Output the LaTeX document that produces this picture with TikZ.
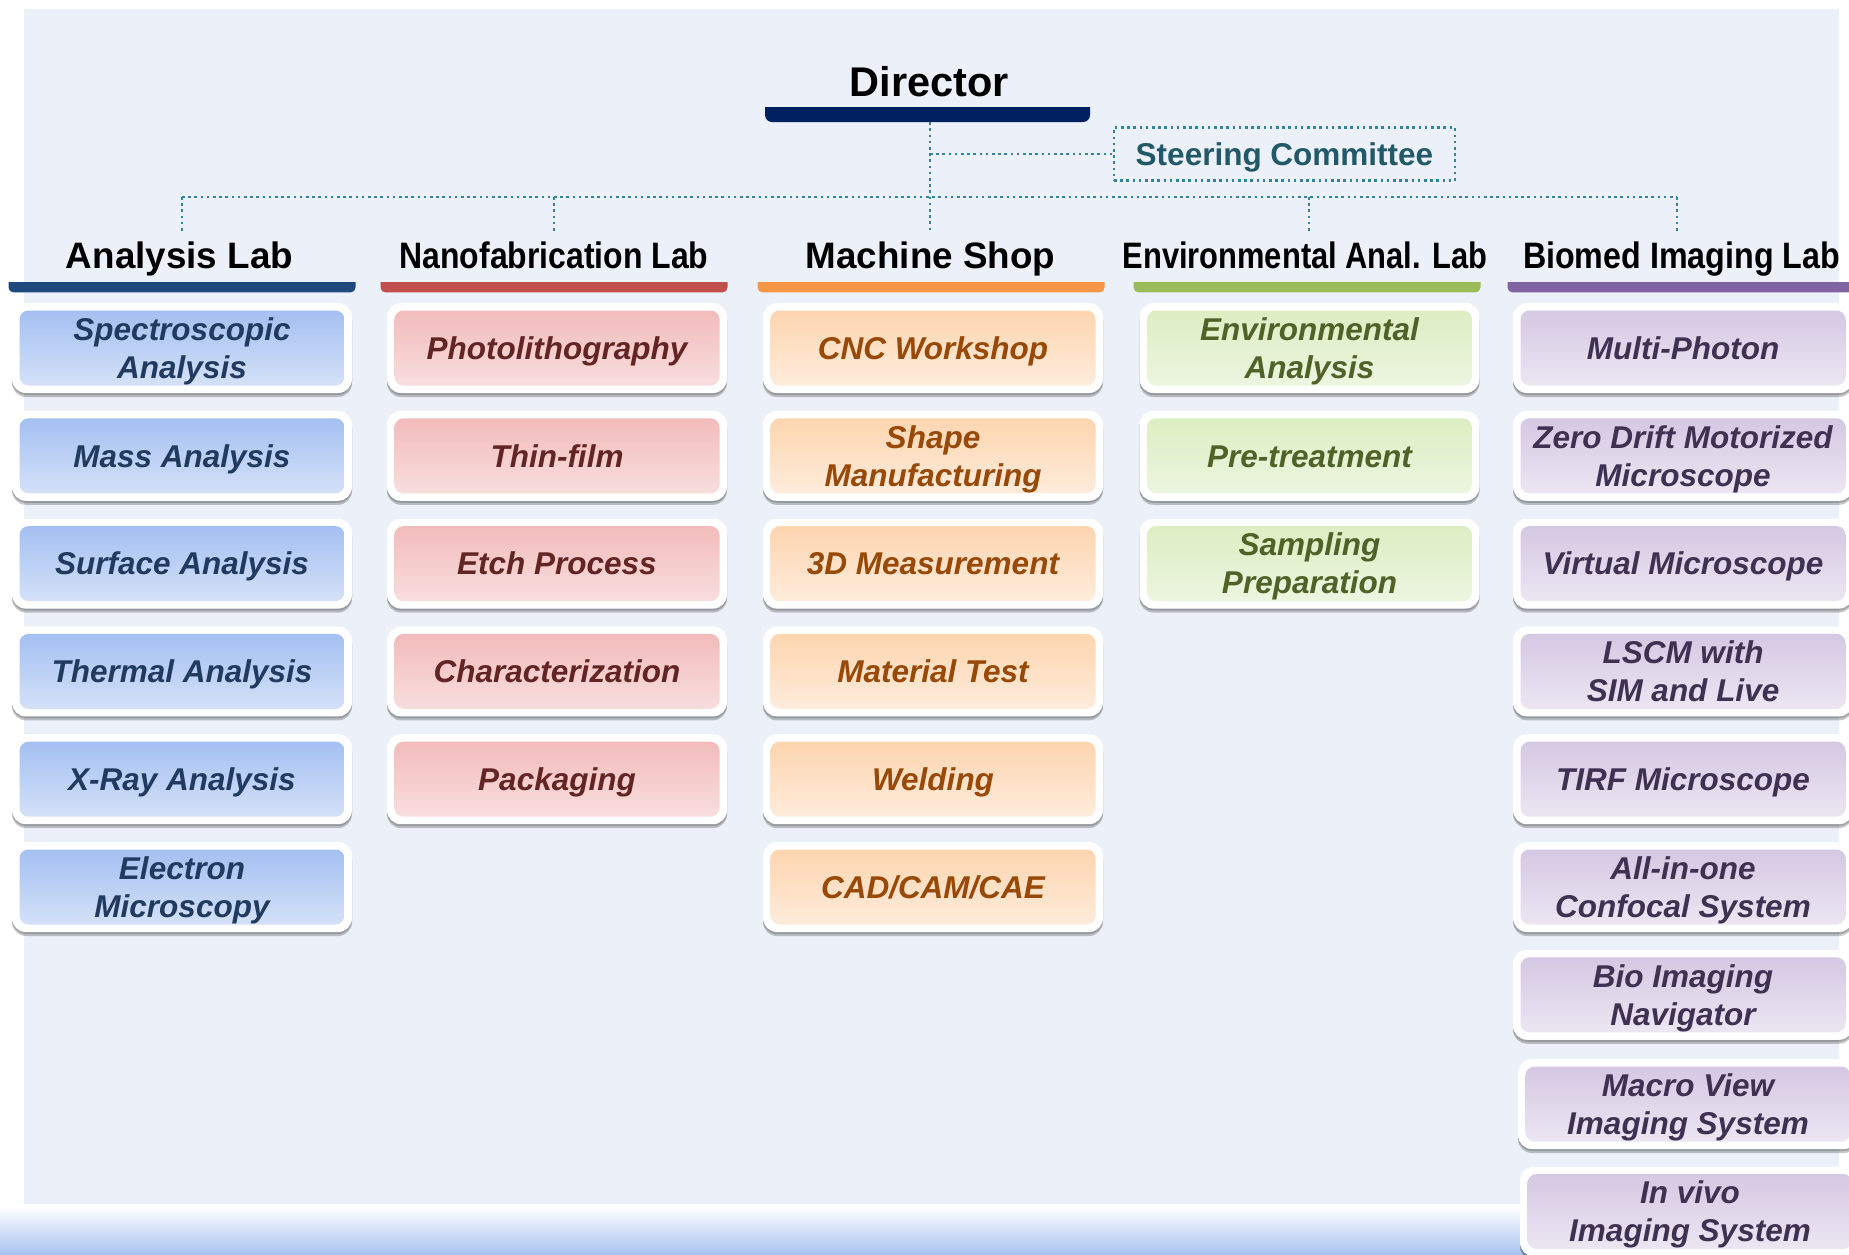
\documentclass[tikz,border=0pt]{standalone}
\usepackage{fontspec}
\usepackage{graphicx}
\setmainfont{Liberation Sans}
\usetikzlibrary{shadows,calc}
\definecolor{cPanel}{HTML}{ECF0F8}
\definecolor{cBot}{HTML}{A6C4EE}
\definecolor{cNavy}{HTML}{002060}
\definecolor{cTeal}{HTML}{31859C}
\definecolor{cSteer}{HTML}{215968}
\definecolor{cA}{HTML}{1F497D}
\definecolor{cN}{HTML}{C0504D}
\definecolor{cM}{HTML}{F79646}
\definecolor{cE}{HTML}{9BBB59}
\definecolor{cB}{HTML}{8064A2}
\definecolor{cAt}{HTML}{9FBDF1}\definecolor{cAb}{HTML}{D9E4F8}\definecolor{cAx}{HTML}{213A5F}
\definecolor{cNt}{HTML}{F2B8B8}\definecolor{cNb}{HTML}{F9E1E1}\definecolor{cNx}{HTML}{632523}
\definecolor{cMt}{HTML}{FDD3AB}\definecolor{cMb}{HTML}{FEEEE0}\definecolor{cMx}{HTML}{984807}
\definecolor{cEt}{HTML}{DCEDC0}\definecolor{cEb}{HTML}{EEF6E2}\definecolor{cEx}{HTML}{4F6228}
\definecolor{cBt}{HTML}{D3C5E1}\definecolor{cBb}{HTML}{EEE9F4}\definecolor{cBx}{HTML}{3F3151}
\newcommand\twol[2]{\vbox{\baselineskip=38pt\lineskiplimit=-100pt\halign{\hfil##\hfil\cr#1\cr#2\cr}}}
\newcommand\sqz[2]{\scalebox{#1}[1]{#2}}
\tikzset{
  labbox/.style n args={3}{rounded corners=14pt, fill=white, minimum width=340pt,
    minimum height=90pt, inner sep=0pt, text=#3,
    font=\bfseries\itshape\fontsize{31.5}{38}\selectfont,
    drop shadow={shadow xshift=0pt, shadow yshift=-4pt, opacity=.22, fill=black},
    drop shadow={shadow xshift=0pt, shadow yshift=-2pt, opacity=.18, fill=black},
    path picture={\shade[top color=#1, bottom color=#2, rounded corners=9pt]
      ([shift={(7.5pt,7.5pt)}]path picture bounding box.south west) rectangle
      ([shift={(-7.5pt,-7.5pt)}]path picture bounding box.north east);}},
  l1/.style={text height=22.6pt, text depth=0pt},
  l2/.style={text height=60.6pt, text depth=0pt},
  bA/.style={labbox={cAt}{cAb}{cAx}},
  bN/.style={labbox={cNt}{cNb}{cNx}},
  bM/.style={labbox={cMt}{cMb}{cMx}},
  bE/.style={labbox={cEt}{cEb}{cEx}},
  bB/.style={labbox={cBt}{cBb}{cBx}},
  hbar/.style 2 args={minimum width=347pt, minimum height=9.5pt, inner sep=0pt,
    path picture={\fill[#1, rounded corners=#2]
      ([yshift=10pt]path picture bounding box.north west) rectangle
      (path picture bounding box.south east);}},
  head/.style={font=\bfseries\fontsize{36.8}{44}\selectfont, inner sep=0pt, anchor=base},
  conn/.style={draw=cTeal, line width=2.6pt, dash pattern=on 2.6pt off 3.6pt},
}
\begin{document}
\begin{tikzpicture}[x=1pt,y=-1pt]
\useasboundingbox (0,0) rectangle (1849,1254);
% background
\fill[white] (0,0) rectangle (1849,1254);
\fill[cPanel] (24,9) rectangle (1839,1204);
\shade[top color=white, bottom color=cBot] (0,1207) rectangle (1849,1254);

% director
\node[font=\bfseries\fontsize{41.5}{50}\selectfont, inner sep=0pt, anchor=base] (dir) at (929.5,96) {Director};
\node[hbar={cNavy}{7pt}, minimum width=325pt, minimum height=15pt] (dirbar) at (927.5,114.5) {};
\node[conn, l1, minimum width=341pt, minimum height=53pt, inner sep=0pt, text=cSteer,
  font=\bfseries\fontsize{31.5}{38}\selectfont] (steer) at (1284.5,154) {Steering Committee};

% heading texts
\node[head] (hA) at (179.5,268.5) {Analysis Lab};
\node[head] (hN) at (554,268.5) {\sqz{0.868}{Nanofabrication Lab}};
\node[head] (hM) at (930.5,268.5) {Machine Shop};
\node[head] (hE) at (1305,268.5) {\sqz{0.839}{Environmental Anal. Lab}};
\node[head] (hB) at (1681.5,268.5) {\sqz{0.876}{Biomed Imaging Lab}};

% heading bars
\node[hbar={cA}{5pt}] (barA) at (182,287.7) {};
\node[hbar={cN}{5pt}] (barN) at (554,287.7) {};
\node[hbar={cM}{5pt}] (barM) at (931,287.7) {};
\node[hbar={cE}{5pt}] (barE) at (1307,287.7) {};
\node[hbar={cB}{5pt}] (barB) at (1681,287.7) {};

% connectors
\coordinate (bus) at (0,197);
\coordinate (tA) at (182,231);
\coordinate (tN) at (554,231);
\coordinate (tM) at (930,231);
\coordinate (tE) at (1309,231);
\coordinate (tB) at (1677,231);
\draw[conn] (tM |- dirbar.south) -- (tM);
\draw[conn] (tM |- steer.west) -- (steer.west);
\draw[conn] (tA |- bus) -- (tB |- bus);
\draw[conn] (tA |- bus) -- (tA);
\draw[conn] (tN |- bus) -- (tN);
\draw[conn] (tE |- bus) -- (tE);
\draw[conn] (tB |- bus) -- (tB);

% Analysis Lab
\node[bA,l2] (a1) at (182,348) {\twol{Spectroscopic}{Analysis}};
\node[bA,l1] (a2) at (182,455.8) {Mass Analysis};
\node[bA,l1] (a3) at (182,563.6) {Surface Analysis};
\node[bA,l1] (a4) at (182,671.4) {Thermal Analysis};
\node[bA,l1] (a5) at (182,779.2) {X-Ray Analysis};
\node[bA,l2] (a6) at (182,887) {\twol{Electron}{Microscopy}};

% Nanofabrication Lab
\node[bN,l1] (n1) at (557,348) {Photolithography};
\node[bN,l1] (n2) at (557,455.8) {Thin-film};
\node[bN,l1] (n3) at (557,563.6) {Etch Process};
\node[bN,l1] (n4) at (557,671.4) {Characterization};
\node[bN,l1] (n5) at (557,779.2) {Packaging};

% Machine Shop
\node[bM,l1] (m1) at (933,348) {CNC Workshop};
\node[bM,l2] (m2) at (933,455.8) {\twol{Shape}{Manufacturing}};
\node[bM,l1] (m3) at (933,563.6) {3D Measurement};
\node[bM,l1] (m4) at (933,671.4) {Material Test};
\node[bM,l1] (m5) at (933,779.2) {Welding};
\node[bM,l1] (m6) at (933,887) {CAD/CAM/CAE};

% Environmental Anal. Lab
\node[bE,l2] (e1) at (1309.5,348) {\twol{Environmental}{Analysis}};
\node[bE,l1] (e2) at (1309.5,455.8) {Pre-treatment};
\node[bE,l2] (e3) at (1309.5,563.6) {\twol{Sampling}{Preparation}};

% Biomed Imaging Lab
\node[bB,l1] (b1) at (1683,348) {Multi-Photon};
\node[bB,l2] (b2) at (1683,455.8) {\twol{Zero Drift Motorized}{Microscope}};
\node[bB,l1] (b3) at (1683,563.6) {Virtual Microscope};
\node[bB,l2] (b4) at (1683,671.4) {\twol{LSCM with}{SIM and Live}};
\node[bB,l1] (b5) at (1683,779.2) {TIRF Microscope};
\node[bB,l2] (b6) at (1683,887) {\twol{All-in-one}{Confocal System}};
\node[bB,l2] (b7) at (1683,994.8) {\twol{Bio Imaging}{Navigator}};
\node[bB,l2] (b8) at (1688,1104) {\twol{Macro View}{Imaging System}};
\node[bB,l2] (b9) at (1690,1211.5) {\twol{In vivo}{Imaging System}};
\end{tikzpicture}
\end{document}
